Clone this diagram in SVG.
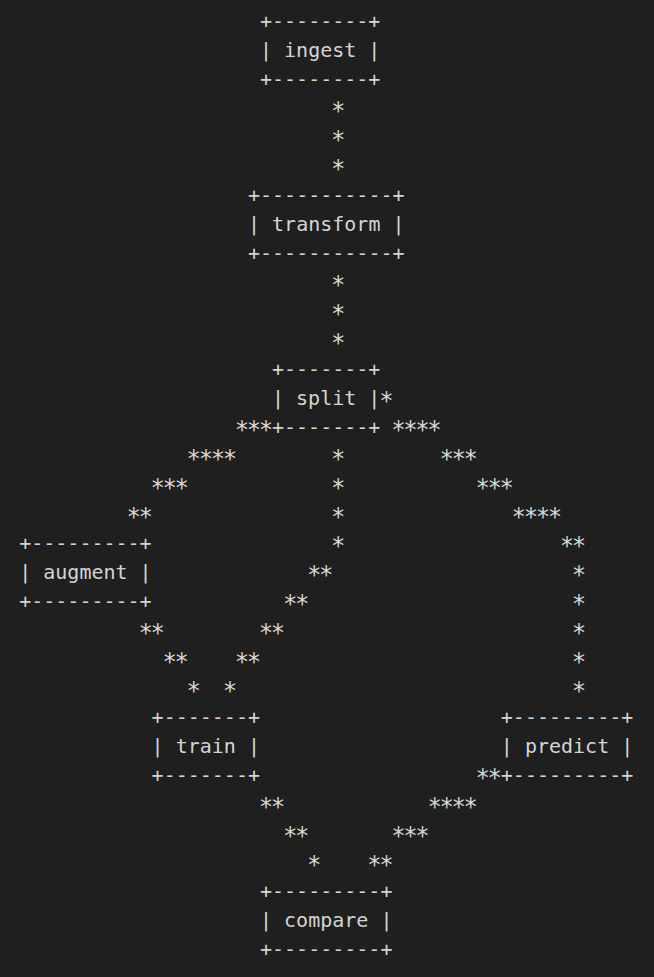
<svg xmlns="http://www.w3.org/2000/svg" width="654" height="977" viewBox="0 0 654 977">
<style>
text{font-family:"DejaVu Sans Mono","Liberation Mono",monospace;font-size:20px;fill:#d4d4d4;white-space:pre}
#connectors text{font-size:24px;letter-spacing:-2.41px}
</style>
<rect width="654" height="977" fill="#1f1f1f"/>
<g id="ingest">
<text x="260" y="28">+--------+</text>
<text x="260" y="57">| ingest |</text>
<text x="260" y="86">+--------+</text>
</g>
<g id="transform">
<text x="248" y="202">+-----------+</text>
<text x="248" y="231">| transform |</text>
<text x="248" y="260">+-----------+</text>
</g>
<g id="split">
<text x="272" y="376">+-------+</text>
<text x="272" y="405">| split |</text>
<text x="272" y="434">+-------+</text>
</g>
<g id="augment">
<text x="19.2" y="550">+---------+</text>
<text x="19.2" y="579">| augment |</text>
<text x="19.2" y="608">+---------+</text>
</g>
<g id="train">
<text x="151.6" y="724">+-------+</text>
<text x="151.6" y="753">| train |</text>
<text x="151.6" y="782">+-------+</text>
</g>
<g id="predict">
<text x="500.8" y="724">+---------+</text>
<text x="500.8" y="753">| predict |</text>
<text x="500.8" y="782">+---------+</text>
</g>
<g id="compare">
<text x="260" y="898">+---------+</text>
<text x="260" y="927">| compare |</text>
<text x="260" y="956">+---------+</text>
</g>
<g id="connectors" transform="translate(-1.2,-1)">
<text x="332.2" y="120">*</text>
<text x="332.2" y="149">*</text>
<text x="332.2" y="178">*</text>
<text x="332.2" y="294">*</text>
<text x="332.2" y="323">*</text>
<text x="332.2" y="352">*</text>
<text x="380.4" y="410">*</text>
<text x="235.9" y="439">***</text>
<text x="392.4" y="439">****</text>
<text x="187.8" y="468">****</text>
<text x="332.2" y="468">*</text>
<text x="440.6" y="468">***</text>
<text x="151.6" y="497">***</text>
<text x="332.2" y="497">*</text>
<text x="476.7" y="497">***</text>
<text x="127.6" y="526">**</text>
<text x="332.2" y="526">*</text>
<text x="512.8" y="526">****</text>
<text x="332.2" y="555">*</text>
<text x="561" y="555">**</text>
<text x="308.2" y="584">**</text>
<text x="573" y="584">*</text>
<text x="284.1" y="613">**</text>
<text x="573" y="613">*</text>
<text x="139.6" y="642">**</text>
<text x="260" y="642">**</text>
<text x="573" y="642">*</text>
<text x="163.7" y="671">**</text>
<text x="235.9" y="671">**</text>
<text x="573" y="671">*</text>
<text x="187.8" y="700">*</text>
<text x="223.9" y="700">*</text>
<text x="573" y="700">*</text>
<text x="476.7" y="787">**</text>
<text x="260" y="816">**</text>
<text x="428.6" y="816">****</text>
<text x="284.1" y="845">**</text>
<text x="392.4" y="845">***</text>
<text x="308.2" y="874">*</text>
<text x="368.4" y="874">**</text>
</g>
</svg>
